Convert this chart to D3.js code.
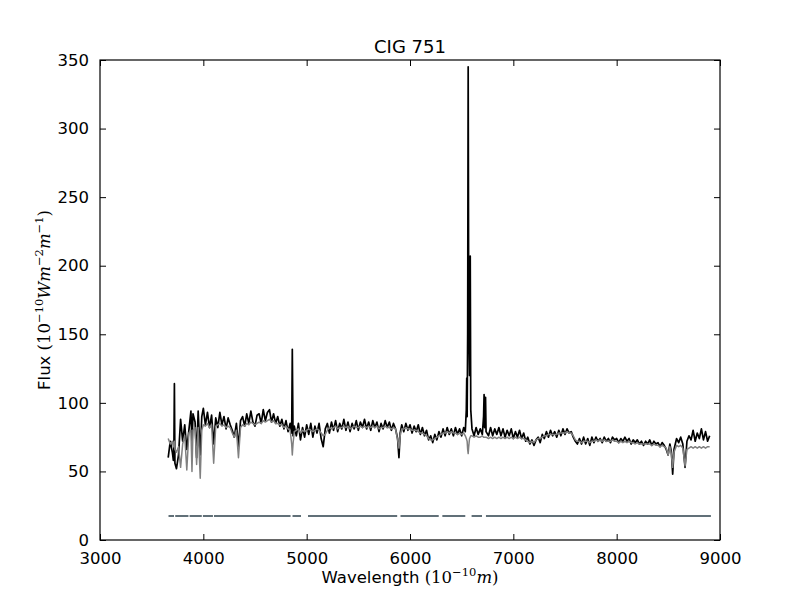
<!DOCTYPE html>
<html>
<head>
<meta charset="utf-8">
<script src="https://cdn.jsdelivr.net/npm/d3@7"></script>
<style>
  body { margin: 0; background: #fff; }
  svg { display: block; }
  .tick text { font-family: "DejaVu Sans", sans-serif; font-size: 16.5px; fill: #000; }
</style>
</head>
<body>
<svg id="chart" width="800" height="600"></svg>
<script>
// ---- data ----
const title = "CIG 751";
const xTicks = [3000, 4000, 5000, 6000, 7000, 8000, 9000];
const yTicks = [0, 50, 100, 150, 200, 250, 300, 350];

const wavelength = [
  3660,3680,3700,3710,3715,3720,3725,3740,3760,3780,3800,3820,3840,3860,3880,3890,3900,3920,3935,3950,3970,3985,
  4000,4020,4040,4060,4080,4100,4120,4140,4160,4180,4200,4220,4240,4260,4280,4300,4320,4340,4360,4380,
  4400,4420,4440,4460,4480,4500,4520,4540,4560,4580,4600,4620,4640,4660,4680,4700,4720,4740,4760,4780,
  4800,4820,4840,4855,4861,4868,4880,4900,4920,4940,4960,4980,
  5000,5020,5040,5060,5080,5100,5120,5140,5160,5180,5200,5220,5240,5260,5280,5300,5320,5340,5360,5380,
  5400,5420,5440,5460,5480,5500,5520,5540,5560,5580,5600,5620,5640,5660,5680,5700,5720,5740,5760,5780,
  5800,5820,5840,5860,5880,5893,5905,5920,5940,5960,5980,
  6000,6020,6040,6060,6080,6100,6120,6140,6160,6180,6200,6220,6240,6260,6280,6300,6320,6340,6360,6380,
  6400,6420,6440,6460,6480,6500,6520,6535,6545,6549,6553,6558,6563,6568,6576,6583,6588,
  6600,6620,6640,6660,6680,6700,6712,6717,6722,6727,6731,6736,6760,6780,
  6800,6820,6840,6860,6880,6900,6920,6940,6960,6980,
  7000,7020,7040,7060,7080,7100,7120,7140,7160,7180,7200,7220,7240,7260,7280,7300,7320,7340,7360,7380,
  7400,7420,7440,7460,7480,7500,7520,7540,7560,7580,7600,7620,7640,7660,7680,7700,7720,7740,7760,7780,
  7800,7820,7840,7860,7880,7900,7920,7940,7960,7980,
  8000,8020,8040,8060,8080,8100,8120,8140,8160,8180,8200,8220,8240,8260,8280,8300,8320,8340,8360,8380,
  8400,8420,8440,8460,8480,8498,8515,8530,8542,8555,8580,8600,8620,8640,8662,8680,
  8700,8720,8740,8760,8780,8800,8820,8840,8860,8880,8900
];

const fluxObserved = [
  60,72,64,58,66,114,56,52,62,88,72,84,66,80,94,70,92,86,60,94,62,90,
  96,84,93,82,91,70,89,82,93,84,90,81,89,84,80,75,85,68,87,90,
  83,92,85,94,86,83,91,92,85,95,87,93,95,86,92,85,90,83,88,81,
  87,79,85,78,139,76,83,76,85,73,82,75,
  84,77,85,75,83,78,85,74,68,81,85,78,86,80,87,79,85,81,88,80,
  86,79,85,81,87,80,86,82,88,81,86,80,87,82,86,79,85,81,87,82,
  86,80,85,81,74,60,78,84,79,85,80,
  84,78,83,79,84,77,82,76,80,73,76,71,77,73,79,75,81,76,82,77,
  81,76,82,77,81,76,82,79,95,118,90,150,345,170,120,207,95,
  81,76,82,77,81,77,90,106,82,88,104,79,76,82,
  76,81,77,82,76,81,75,80,76,81,
  74,79,75,80,74,78,72,75,70,73,69,73,75,71,77,74,79,75,80,76,
  79,75,80,76,81,77,81,78,79,75,72,70,74,70,75,70,74,69,75,71,
  75,72,74,71,75,72,74,71,75,73,
  74,71,74,72,75,72,74,70,73,71,73,70,72,69,72,70,73,69,72,70,
  71,68,71,69,66,62,70,64,48,66,74,71,75,70,53,72,
  76,73,80,72,78,74,81,73,79,72,76
];

const fluxModel = [
  74,70,72,68,70,72,66,64,68,53,70,76,51,78,80,50,80,82,55,82,45,80,
  84,83,85,82,84,56,83,84,85,83,84,82,83,82,78,75,80,60,82,84,
  83,85,84,86,85,84,85,86,85,87,86,87,88,86,87,85,85,84,84,82,
  83,81,80,70,62,70,79,80,81,78,80,79,
  80,81,80,79,80,81,80,78,76,77,80,82,81,82,83,81,82,82,83,82,
  83,81,82,83,82,82,83,82,83,82,83,82,83,82,83,81,82,82,83,82,
  82,81,82,81,73,67,76,81,81,82,81,
  81,80,80,80,79,78,78,77,76,74,73,73,74,75,76,77,78,78,79,78,
  79,78,78,77,78,77,78,76,74,73,72,66,63,68,74,75,76,
  76,75,76,75,75,76,75,75,75,75,75,75,74,75,
  74,75,74,75,74,75,74,75,74,75,
  74,75,74,75,74,74,73,72,71,72,71,73,74,74,75,76,76,77,77,77,
  77,77,78,78,78,78,79,78,78,76,73,72,72,71,72,72,72,71,72,72,
  73,72,73,72,73,72,72,72,73,72,
  72,71,72,71,72,71,72,71,71,70,71,70,70,70,70,70,70,69,70,69,
  69,68,69,68,67,62,68,62,53,64,69,68,69,67,54,66,
  67,68,67,68,67,68,67,68,67,68,68
];

// masked regions (start, end wavelength) drawn as a flat line
const maskLevel = 17.5;
const maskStart = [3663,3728,3867,3996,4103,4863,5013,5908,6313,6596,6735];
const maskEnd   = [3716,3856,3985,4093,4844,4945,5876,6278,6535,6697,8912];

// ---- layout ----
const svg = d3.select("#chart");
const mLeft = 100, mRight = 720, mTop = 60, mBottom = 540;
const x = d3.scaleLinear().domain([3000, 9000]).range([mLeft, mRight]);
const y = d3.scaleLinear().domain([0, 350]).range([mBottom, mTop]);

svg.append("rect").attr("x", 0).attr("y", 0).attr("width", 800).attr("height", 600).attr("fill", "#fff");

svg.append("defs").append("clipPath").attr("id", "clip")
  .append("rect").attr("x", mLeft).attr("y", mTop).attr("width", mRight - mLeft).attr("height", mBottom - mTop);

const plot = svg.append("g").attr("clip-path", "url(#clip)");

const obs = wavelength.map((w, i) => [w, fluxObserved[i]]);
const mod = wavelength.map((w, i) => [w, fluxModel[i]]);
const line = d3.line().x(d => x(d[0])).y(d => y(d[1]));

plot.append("path").datum(obs).attr("d", line)
  .attr("fill", "none").attr("stroke", "#000").attr("stroke-width", 1.7).attr("stroke-linejoin", "round");
plot.append("path").datum(mod).attr("d", line)
  .attr("fill", "none").attr("stroke", "#808080").attr("stroke-width", 1.5).attr("stroke-linejoin", "round");

plot.selectAll("line.mask").data(maskStart.map((s, i) => [s, maskEnd[i]])).enter()
  .append("line").attr("class", "mask")
  .attr("x1", d => x(d[0])).attr("x2", d => x(d[1]))
  .attr("y1", y(maskLevel)).attr("y2", y(maskLevel))
  .attr("stroke", "#617078").attr("stroke-width", 2);

// ---- axes (ticks inside, on all four sides) ----
const tl = 6;
svg.append("g").attr("transform", `translate(0,${mBottom})`)
  .call(d3.axisBottom(x).tickValues(xTicks).tickFormat(d3.format("d")).tickSizeInner(-tl).tickSizeOuter(0).tickPadding(tl + 6))
  .call(g => g.select(".domain").remove());
svg.append("g").attr("transform", `translate(0,${mTop})`)
  .call(d3.axisTop(x).tickValues(xTicks).tickFormat("").tickSizeInner(-tl).tickSizeOuter(0))
  .call(g => g.select(".domain").remove());
svg.append("g").attr("transform", `translate(${mLeft},0)`)
  .call(d3.axisLeft(y).tickValues(yTicks).tickFormat(d3.format("d")).tickSizeInner(-tl).tickSizeOuter(0).tickPadding(tl + 5))
  .call(g => g.select(".domain").remove());
svg.append("g").attr("transform", `translate(${mRight},0)`)
  .call(d3.axisRight(y).tickValues(yTicks).tickFormat("").tickSizeInner(-tl).tickSizeOuter(0))
  .call(g => g.select(".domain").remove());
svg.selectAll(".tick line").attr("stroke", "#000").attr("stroke-width", 1);

svg.append("rect").attr("x", mLeft).attr("y", mTop).attr("width", mRight - mLeft).attr("height", mBottom - mTop)
  .attr("fill", "none").attr("stroke", "#000").attr("stroke-width", 1.2);

// ---- title & labels ----
svg.append("text").attr("x", (mLeft + mRight) / 2).attr("y", 53).attr("text-anchor", "middle")
  .attr("font-family", "DejaVu Sans, sans-serif").attr("font-size", 18).text(title);

const serif = "DejaVu Serif, serif";
const xl = svg.append("text").attr("x", (mLeft + mRight) / 2).attr("y", 583).attr("text-anchor", "middle")
  .attr("font-family", "DejaVu Sans, sans-serif").attr("font-size", 16.5);
xl.append("tspan").text("Wavelength ");
xl.append("tspan").attr("font-family", serif).text("(10");
xl.append("tspan").attr("font-family", serif).attr("font-size", 11.5).attr("dy", -7).text("−10");
xl.append("tspan").attr("font-family", serif).attr("font-style", "italic").attr("dy", 7).text("m");
xl.append("tspan").attr("font-family", serif).text(")");

const yl = svg.append("text").attr("transform", `translate(50,${(mTop + mBottom) / 2}) rotate(-90)`).attr("text-anchor", "middle")
  .attr("font-family", "DejaVu Sans, sans-serif").attr("font-size", 16.5);
yl.append("tspan").text("Flux ");
yl.append("tspan").attr("font-family", serif).text("(10");
yl.append("tspan").attr("font-family", serif).attr("font-size", 11.5).attr("dy", -7).text("−10");
yl.append("tspan").attr("font-family", serif).attr("font-style", "italic").attr("dy", 7).text("Wm");
yl.append("tspan").attr("font-family", serif).attr("font-size", 11.5).attr("dy", -7).text("−2");
yl.append("tspan").attr("font-family", serif).attr("font-style", "italic").attr("dy", 7).text("m");
yl.append("tspan").attr("font-family", serif).attr("font-size", 11.5).attr("dy", -7).text("−1");
yl.append("tspan").attr("font-family", serif).attr("dy", 7).text(")");
</script>
</body>
</html>
